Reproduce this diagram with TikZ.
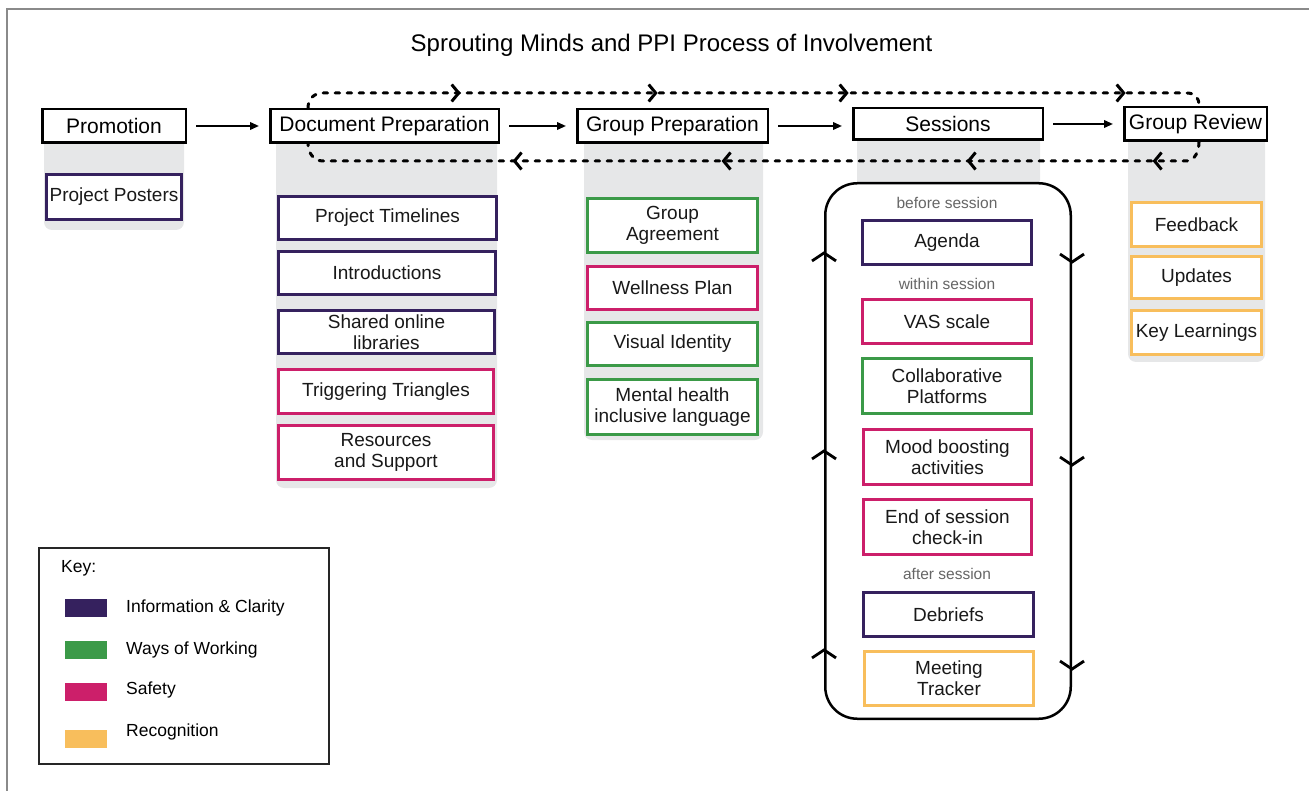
\documentclass[tikz,border=0pt]{standalone}
\usepackage{fontspec}
\setmainfont{Liberation Sans}
\usetikzlibrary{arrows.meta,calc,decorations.markings}

\definecolor{infoC}{HTML}{35215E}
\definecolor{workC}{HTML}{3B9A48}
\definecolor{safeC}{HTML}{CC1F6A}
\definecolor{recogC}{HTML}{F8BE5C}
\definecolor{colbg}{HTML}{E6E7E8}
\definecolor{phaseC}{HTML}{666666}
\definecolor{frameC}{HTML}{8A8A8A}

\tikzset{
  dashtip/.tip={Straight Barb[length=7pt,width=17pt,line width=3pt]},
  sesstip/.tip={Straight Barb[length=8pt,width=24pt,line width=2.8pt]},
}

\begin{document}
\begin{tikzpicture}[x=1pt,y=-1pt,
  box/.style 2 args={minimum width=#1, minimum height=#2},
  head/.style={draw=black, line width=2.5pt, fill=white, inner sep=0pt,
    font=\fontsize{21}{24}\selectfont},
  sub/.style={draw=#1, line width=3pt, fill=white, inner sep=0pt, align=center,
    text=black!90, font=\fontsize{19}{21}\selectfont},
  column/.style={fill=colbg, rounded corners=8pt},
  phase/.style={text=phaseC, inner sep=0pt, font=\fontsize{15.5}{18}\selectfont},
  flow/.style={line width=2pt, -{Triangle[length=9pt,width=7.5pt]},
    shorten <=9pt, shorten >=10pt},
  loopline/.style={line width=3pt, dash pattern=on 4.5pt off 7.5pt, line cap=round},
  keytext/.style={anchor=west, inner sep=0pt, font=\fontsize{17.5}{20}\selectfont},
  swatch/.style={fill=#1, minimum width=42pt, minimum height=18pt, inner sep=0pt},
]
\useasboundingbox (0,0) rectangle (1309,791);

% outer frame
\draw[frameC, line width=1.5pt] (7,791) -- (7,9) -- (1309,9);

% title
\node[font=\fontsize{24}{28}\selectfont] (title) at (671.5,45)
  {Sprouting Minds and PPI Process of Involvement};

% grey columns behind each stage
\fill[column] (44,126) rectangle (184,230);
\fill[column] (276,126) rectangle (497,488);
\fill[column] (584,126) rectangle (763,440);
\fill[column] (857,124) rectangle (1040,260);
\fill[column] (1128,124) rectangle (1265,362);

% stage headers
\node[head, box={143.5}{33.5}] (prom) at (114,126) {Promotion};
\node[head, box={228.5}{33.5}] (dp) at (384.5,126) {Document Preparation};
\node[head, box={190.5}{33.5}] (gp) at (672.5,126) {Group Preparation};
\node[head, box={189.5}{31.5}] (ses) at (948,124) {Sessions};
\node[head, box={142.5}{33.5}] (gr) at (1195.5,124) {Group Review};

% stage flow
\draw[flow] (prom) -- (dp);
\draw[flow] (dp) -- (gp);
\draw[flow] (gp.east) -- (gp.east -| ses.west);
\draw[flow] (ses) -- (gr);

% dashed feedback loop: forward over the top
\draw[loopline,
  decoration={markings,
    mark=at position 161.5pt with {\arrow{dashtip}},
    mark=at position 358.5pt with {\arrow{dashtip}},
    mark=at position 549.5pt with {\arrow{dashtip}},
    mark=at position 826.5pt with {\arrow{dashtip}}},
  postaction={decorate}]
  ($(dp.north west)+(39,0)$) .. controls +(0,-9) and +(-9,0) .. (323,93)
  -- (1186,93) .. controls +(9,0) and +(0,-9) .. ($(gr.north west)+(76,0)$);

% dashed feedback loop: back along the bottom
\draw[loopline,
  decoration={markings,
    mark=at position 59pt with {\arrow{dashtip}},
    mark=at position 245pt with {\arrow{dashtip}},
    mark=at position 490pt with {\arrow{dashtip}},
    mark=at position 699pt with {\arrow{dashtip}}},
  postaction={decorate}]
  ($(gr.south west)+(76,0)$) .. controls +(0,9) and +(9,0) .. (1186,161)
  -- (323,161) .. controls +(-9,0) and +(0,9) .. ($(dp.south west)+(39,0)$);

% Promotion
\node[sub=infoC, box={135}{45}] (pp) at (114,197) {Project Posters};

% Document Preparation
\node[sub=infoC, box={218}{43}] (pt) at (387.5,218) {Project Timelines};
\node[sub=infoC, box={217}{43}] (intro) at (387,273) {Introductions};
\node[sub=infoC, box={216}{43}] (sol) at (386.5,332) {Shared online\\libraries};
\node[sub=safeC, box={215}{44}] (tt) at (386,391.5) {Triggering Triangles};
\node[sub=safeC, box={215}{54}] (rs) at (386,452.5) {Resources\\and Support};

% Group Preparation
\node[sub=workC, box={170}{54}] (ga) at (672.5,225.5) {Group\\Agreement};
\node[sub=safeC, box={170}{43}] (wp) at (672.5,288) {Wellness Plan};
\node[sub=workC, box={170}{43}] (vi) at (672.5,344) {Visual Identity};
\node[sub=workC, box={170}{55}] (mh) at (672.5,407) {Mental health\\inclusive language};

% Sessions cycle
\node[draw=black, line width=2.5pt, fill=white, rounded corners=32pt,
  box={245.5}{535.5}] (sb) at (948,451) {};
\path[line width=2.5pt,
  decoration={markings,
    mark=at position 71.75pt with {\arrow{sesstip}},
    mark=at position 270.75pt with {\arrow{sesstip}},
    mark=at position 468.75pt with {\arrow{sesstip}}},
  postaction={decorate}] (sb.south west) -- (sb.north west);
\path[line width=2.5pt,
  decoration={markings,
    mark=at position 81.75pt with {\arrow{sesstip}},
    mark=at position 284.75pt with {\arrow{sesstip}},
    mark=at position 488.75pt with {\arrow{sesstip}}},
  postaction={decorate}] (sb.north east) -- (sb.south east);

\node[phase] (before) at (947,203) {before session};
\node[sub=infoC, box={169}{44}] (ag) at (947,242.5) {Agenda};
\node[phase] (within) at (947,284) {within session};
\node[sub=safeC, box={169}{44}] (vas) at (947,321.5) {VAS scale};
\node[sub=workC, box={169}{55}] (cp) at (947,386) {Collaborative\\Platforms};
\node[sub=safeC, box={168}{55}] (mb) at (947.5,457) {Mood boosting\\activities};
\node[sub=safeC, box={168}{55}] (eos) at (947.5,527) {End of session\\check-in};
\node[phase] (after) at (947,574) {after session};
\node[sub=infoC, box={170}{44}] (db) at (948.5,614.5) {Debriefs};
\node[sub=recogC, box={169}{54}] (mt) at (949,678.5) {Meeting\\Tracker};

% Group Review
\node[sub=recogC, box={130}{44}] (fb) at (1196.5,224.5) {Feedback};
\node[sub=recogC, box={130}{42}] (upd) at (1196.5,277.5) {Updates};
\node[sub=recogC, box={130}{44}] (kl) at (1196.5,332.5) {Key Learnings};

% key
\node[draw=black!85, line width=1.2pt, box={290}{216}, inner sep=0pt] (key) at (184,656) {};
\node[keytext] (keyt) at (61,568) {Key:};
\node[swatch=infoC] (sw1) at (86,608) {};
\node[swatch=workC] (sw2) at (86,650) {};
\node[swatch=safeC] (sw3) at (86,692) {};
\node[swatch=recogC] (sw4) at (86,739) {};
\node[keytext] (k1) at (126,608) {Information \& Clarity};
\node[keytext] (k2) at (126,650) {Ways of Working};
\node[keytext] (k3) at (126,690) {Safety};
\node[keytext] (k4) at (126,732) {Recognition};
\end{tikzpicture}
\end{document}
